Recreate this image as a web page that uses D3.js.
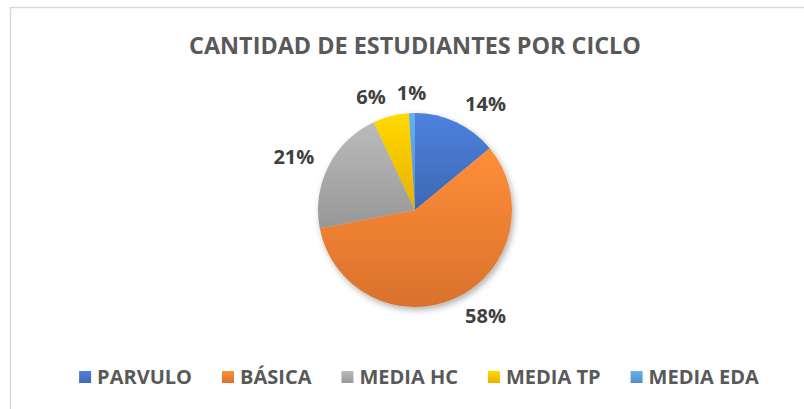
<!DOCTYPE html>
<html>
<head>
<meta charset="utf-8">
<script src="https://cdn.jsdelivr.net/npm/d3@7"></script>
<style>
  body { margin: 0; background: #fff; }
  text { font-family: "Open Sans", sans-serif; font-weight: bold; }
</style>
</head>
<body>
<div id="chart"></div>
<script>
var categories = ['PARVULO', 'BÁSICA', 'MEDIA HC', 'MEDIA TP', 'MEDIA EDA'];
var values = [14, 58, 21, 6, 1];
var colors = ['#4472C4', '#ED7D31', '#A5A5A5', '#FFC000', '#5B9BD5'];
var title = 'CANTIDAD DE ESTUDIANTES POR CICLO';

var width = 804;
var height = 409;
var cx = 415, cy = 210, radius = 97;

var data = categories.map(function(c, i) {
    return { name: c, value: values[i], color: colors[i] };
});

var svg = d3.select('#chart')
    .append('svg')
    .attr('width', width)
    .attr('height', height);

var defs = svg.append('defs');

// degradado vertical para cada color (claro arriba, oscuro abajo)
data.forEach(function(d, i) {
    var g = defs.append('linearGradient')
        .attr('id', 'grad' + i)
        .attr('x1', 0).attr('y1', 0)
        .attr('x2', 0).attr('y2', 1);
    g.append('stop').attr('offset', '0%').attr('stop-color', d3.color(d.color).brighter(0.35));
    g.append('stop').attr('offset', '100%').attr('stop-color', d3.color(d.color).darker(0.25));
});

var shadow = defs.append('filter')
    .attr('id', 'shadow')
    .attr('x', '-20%').attr('y', '-20%')
    .attr('width', '140%').attr('height', '140%');
shadow.append('feDropShadow')
    .attr('dx', 2).attr('dy', 3)
    .attr('stdDeviation', 3)
    .attr('flood-color', '#000')
    .attr('flood-opacity', 0.3);

// borde del area del grafico
svg.append('rect')
    .attr('x', 10.5).attr('y', 7.5)
    .attr('width', 830).attr('height', 430)
    .attr('fill', 'none')
    .attr('stroke', '#d9d9d9')
    .attr('stroke-width', 1.5);

svg.append('text')
    .attr('x', cx)
    .attr('y', 54)
    .attr('text-anchor', 'middle')
    .attr('font-size', 23.4)
    .attr('fill', '#595959')
    .text(title);

var pie = d3.pie()
    .sort(null)
    .value(function(d) { return d.value; });

var arc = d3.arc()
    .innerRadius(0)
    .outerRadius(radius);

var arcs = pie(data);
var total = d3.sum(values);

var g = svg.append('g')
    .attr('transform', 'translate(' + cx + ',' + cy + ')');

g.append('g')
    .attr('filter', 'url(#shadow)')
    .selectAll('path')
    .data(arcs)
    .enter()
    .append('path')
    .attr('d', arc)
    .attr('fill', function(d, i) { return 'url(#grad' + i + ')'; });

// etiquetas de porcentaje fuera del circulo
var labelR = radius + 16;
var labels = g.selectAll('text.pct')
    .data(arcs)
    .enter()
    .append('text')
    .attr('class', 'pct')
    .attr('font-size', 20)
    .attr('fill', '#404040')
    .text(function(d) { return Math.round(d.data.value / total * 100) + '%'; });

var boxes = [];
labels.each(function(d) {
    var a = (d.startAngle + d.endAngle) / 2;
    var s = Math.sin(a), c = Math.cos(a);
    var w = this.getComputedTextLength();
    var h = 8;
    var px = labelR * s, py = -labelR * c;
    var x0;
    if (s > 0.3) x0 = px + 2;
    else if (s < -0.3) x0 = px - w;
    else x0 = px - w / 2;
    boxes.push({ el: this, x: x0, w: w, yc: py - c * h / 2 });
});
// evitar que se monten las etiquetas pequeñas de arriba
for (var i = boxes.length - 1; i > 0; i--) {
    var b = boxes[i], p = boxes[i - 1];
    if (Math.abs(b.yc - p.yc) < 17 && p.x + p.w + 11 > b.x && p.x < b.x) {
        p.x = b.x - 11 - p.w;
    }
}
boxes.forEach(function(b) {
    d3.select(b.el)
        .attr('x', b.x)
        .attr('y', b.yc)
        .attr('dy', '0.36em');
});

// leyenda
var legend = svg.append('g');
var items = legend.selectAll('g')
    .data(data)
    .enter()
    .append('g');

items.append('rect')
    .attr('width', 12)
    .attr('height', 12)
    .attr('y', -6)
    .attr('fill', function(d, i) { return 'url(#grad' + i + ')'; });

items.append('text')
    .attr('x', 18)
    .attr('dy', '0.35em')
    .attr('font-size', 20)
    .attr('fill', '#595959')
    .text(function(d) { return d.name; });

var gap = 30;
var xpos = 0;
var offsets = [];
items.each(function() {
    var tw = d3.select(this).select('text').node().getComputedTextLength();
    offsets.push(xpos);
    xpos += 18 + tw + gap;
});
var legendW = xpos - gap;
items.attr('transform', function(d, i) { return 'translate(' + offsets[i] + ',0)'; });
legend.attr('transform', 'translate(' + (419 - legendW / 2) + ',377)');
</script>
</body>
</html>
